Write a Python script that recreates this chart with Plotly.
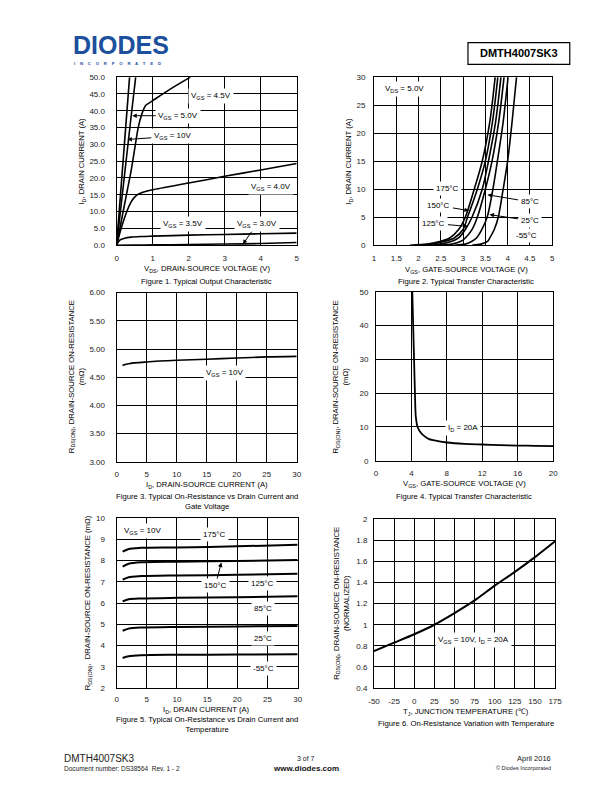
import plotly.graph_objects as go

W, H = 612, 792
FONT = "Liberation Sans"

# ---------------- data ----------------
# Figure 1: output characteristic (VDS in V, ID in A)
f1_vds_10v = [0, 0.1, 0.2, 0.3, 0.36]
f1_id_10v = [0, 14, 28, 42, 50]
f1_vds_5v = [0, 0.1, 0.2, 0.3, 0.4, 0.53]
f1_id_5v = [0, 10, 19.5, 29, 38, 50]
f1_vds_45v = [0, 0.1, 0.2, 0.3, 0.4, 0.5, 0.6, 0.7, 0.8, 0.9, 1.0, 1.5, 2.05]
f1_id_45v = [0, 5.5, 11, 16.5, 22, 28.5, 35, 39, 41.5, 42.3, 43, 46.5, 50]
f1_vds_4v = [0, 0.1, 0.2, 0.3, 0.4, 0.5, 0.6, 0.8, 1.0, 2.0, 3.0, 4.0, 5.0]
f1_id_4v = [0, 4, 7.5, 10.5, 12.8, 14.3, 15.2, 16, 16.5, 18.5, 20.5, 22.4, 24.3]
f1_vds_35v = [0, 0.05, 0.1, 0.2, 0.4, 0.7, 1, 2, 3, 4, 5]
f1_id_35v = [0, 1, 1.6, 2.0, 2.4, 2.6, 2.7, 3.0, 3.2, 3.4, 3.6]
f1_vds_3v = [0, 0.5, 1, 2, 3, 4, 5]
f1_id_3v = [0, 0.05, 0.1, 0.2, 0.35, 0.5, 0.8]

# Figure 2: transfer characteristic (VGS in V, ID in A)
f2_vgs_175 = [1.8, 2.2, 2.5, 2.7, 2.9, 3.05, 3.25, 3.43, 3.6, 3.72]
f2_vgs_150 = [2.0, 2.3, 2.6, 2.8, 3.0, 3.1, 3.32, 3.5, 3.66, 3.78]
f2_vgs_125 = [2.2, 2.5, 2.75, 2.9, 3.05, 3.2, 3.43, 3.57, 3.73, 3.85]
f2_vgs_85 = [2.5, 2.75, 2.95, 3.05, 3.2, 3.32, 3.5, 3.65, 3.8, 3.92]
f2_vgs_25 = [2.8, 3.05, 3.2, 3.3, 3.42, 3.54, 3.67, 3.77, 3.9, 4.01]
f2_vgs_m55 = [3.2, 3.4, 3.55, 3.6, 3.7, 3.79, 3.9, 4.0, 4.1, 4.2]
f2_id = [0, 0.2, 0.7, 1.3, 2.8, 5, 10, 15, 22, 30]

# Figure 3: RDS(on) vs ID at VGS = 10V
f3_id = [1, 2, 5, 10, 15, 20, 25, 30]
f3_rds = [4.71, 4.74, 4.77, 4.80, 4.82, 4.84, 4.86, 4.87]

# Figure 4: RDS(on) vs VGS at ID = 20A
f4_vgs = [4.1, 4.2, 4.3, 4.4, 4.5, 4.7, 5, 5.5, 6, 7, 8, 10, 12, 14, 16, 18, 20]
f4_rds = [50, 40, 30, 20, 13, 10, 8.5, 7.2, 6.4, 5.8, 5.4, 5.0, 4.8, 4.6, 4.5, 4.4, 4.3]

# Figure 5: RDS(on) vs ID at temperatures
f5_id = [1, 2, 4, 10, 20, 30]
f5_rds_175 = [8.42, 8.55, 8.60, 8.62, 8.67, 8.75]
f5_rds_150 = [7.72, 7.85, 7.92, 7.95, 7.98, 8.03]
f5_rds_125 = [7.10, 7.22, 7.27, 7.30, 7.33, 7.38]
f5_rds_85 = [6.08, 6.18, 6.22, 6.25, 6.28, 6.32]
f5_rds_25 = [4.70, 4.80, 4.85, 4.88, 4.90, 4.92]
f5_rds_m55 = [3.42, 3.50, 3.55, 3.57, 3.58, 3.60]

# Figure 6: normalized RDS(on) vs Tj
f6_tj = [-50, -25, 0, 25, 50, 75, 100, 125, 150, 175]
f6_rds = [0.75, 0.83, 0.91, 1.0, 1.11, 1.23, 1.37, 1.5, 1.64, 1.79]
f6_xticks = [-50, -25, 0, 25, 50, 75, 100, 125, 150, 175]
f6_xtick_text = ["-50", "-25", "0", "25", "50", "75", "100", "125", "150", "175"]

# ---------------- layout helpers ----------------
def fx(x):
    return x / W

def fy(y):
    return 1 - y / H

# plot boxes in page pixels: (left, right, top, bottom)
boxes = {
    1: (113, 297, 74, 244),
    2: (376, 558, 74, 244),
    3: (113, 297, 292, 463),
    4: (378, 559, 291, 462),
    5: (113, 298, 520, 692),
    6: (376, 561, 521, 692),
}

fig = go.Figure()

def line(n, x, y, shape="spline", width=1.6):
    xa = "x" if n == 1 else f"x{n}"
    ya = "y" if n == 1 else f"y{n}"
    fig.add_trace(go.Scatter(x=x, y=y, mode="lines", xaxis=xa, yaxis=ya,
                             line=dict(color="black", width=width, shape=shape,
                                       smoothing=0.8 if shape == "spline" else None),
                             showlegend=False, hoverinfo="skip"))

line(1, f1_vds_10v, f1_id_10v, "linear")
line(1, f1_vds_5v, f1_id_5v, "linear")
line(1, f1_vds_45v, f1_id_45v)
line(1, f1_vds_4v, f1_id_4v)
line(1, f1_vds_35v, f1_id_35v)
line(1, f1_vds_3v, f1_id_3v)

for v in (f2_vgs_175, f2_vgs_150, f2_vgs_125, f2_vgs_85, f2_vgs_25, f2_vgs_m55):
    line(2, v, f2_id)

line(3, f3_id, f3_rds)
line(4, f4_vgs, f4_rds, "spline", 1.8)
for r in (f5_rds_175, f5_rds_150, f5_rds_125, f5_rds_85, f5_rds_25, f5_rds_m55):
    line(5, f5_id, r, "spline", 2)
line(6, f6_tj, f6_rds, "spline", 2)

TICK = 8
LBL = 8
TITLE = 7.7

tickfont = dict(family=FONT, size=TICK, color="#222")

def axes(n, xr, xd, yr, yd, yfmt=None, ystand=8, xstand=5, xvals=None, xtext=None):
    l, r, t, b = boxes[n]
    common = dict(showline=True, linecolor="black", linewidth=1, mirror=True,
                  showgrid=True, gridcolor="black", gridwidth=1, zeroline=False,
                  ticks="", tickfont=tickfont, fixedrange=True)
    xk = "xaxis" if n == 1 else f"xaxis{n}"
    yk = "yaxis" if n == 1 else f"yaxis{n}"
    ya = "y" if n == 1 else f"y{n}"
    xa = "x" if n == 1 else f"x{n}"
    xd_ = dict(domain=[fx(l), fx(r)], range=xr, anchor=ya, ticklabelstandoff=xstand, **common)
    if xvals is not None:
        xd_.update(tickmode="array", tickvals=xvals, ticktext=xtext)
    else:
        xd_.update(dtick=xd, tick0=xr[0])
    fig.layout[xk] = xd_
    yd_ = dict(domain=[fy(b), fy(t)], range=yr, dtick=yd, tick0=yr[0],
               anchor=xa, ticklabelstandoff=ystand, **common)
    if yfmt:
        yd_["tickformat"] = yfmt
    fig.layout[yk] = yd_

axes(1, [0, 5], 1, [0, 50], 5, ".1f", 9)
axes(2, [1, 5], 0.5, [0, 30], 5, None, 6)
axes(3, [0, 30], 5, [3, 6], 0.5, ".2f", 9)
axes(4, [0, 20], 4, [0, 50], 10, None, 5)
axes(5, [0, 30], 5, [2, 10], 1, None, 9, xstand=3)
axes(6, [-50, 175], 25, [0.4, 2], 0.2, None, 4, xvals=f6_xticks, xtext=f6_xtick_text)

ann = []

def text(x, y, s, size=TITLE, anchor="center", bold=False, angle=0, color="black", yanchor="middle", bg=None):
    d = dict(x=fx(x), y=fy(y), xref="paper", yref="paper", text=s, showarrow=False,
             xanchor=anchor, yanchor=yanchor, textangle=angle,
             font=dict(family=FONT, size=size, color=color))
    if bold:
        d["text"] = f"<b>{s}</b>"
    if bg:
        d["bgcolor"] = bg
        d["borderpad"] = 2
    ann.append(d)

def label(x, y, s, size=LBL):
    text(x, y, s, size=size, bg="white")

def arrow(hx, hy, tx, ty, s, size=LBL):
    ann.append(dict(x=fx(hx), y=fy(hy), xref="paper", yref="paper", text=s,
                    showarrow=True, ax=tx - hx, ay=ty - hy, axref="pixel", ayref="pixel",
                    arrowhead=2, arrowsize=0.9, arrowwidth=1, arrowcolor="black",
                    bgcolor="white", borderpad=2,
                    font=dict(family=FONT, size=size, color="black")))

# ---- Figure 1 ----
label(209, 93, "V<sub>GS</sub> = 4.5V")
arrow(129, 113, 175, 113, "V<sub>GS</sub> = 5.0V")
arrow(124, 137, 169, 134, "V<sub>GS</sub> = 10V")
label(271, 185, "V<sub>GS</sub> = 4.0V")
label(181, 223, "V<sub>GS</sub> = 3.5V")
arrow(242, 243, 256, 223, "V<sub>GS</sub> = 3.0V")
text(205, 268, "V<sub>DS</sub>, DRAIN-SOURCE VOLTAGE (V)")
text(78, 159, "I<sub>D</sub>, DRAIN CURRENT (A)", angle=-90)
text(205, 281, "Figure 1. Typical Output Characteristic")

# ---- Figure 2 ----
label(407, 86, "V<sub>DS</sub> = 5.0V")
label(451, 187, "175°C")
arrow(473, 209, 443, 204, "150°C")
arrow(472, 225, 438, 222, "125°C")
arrow(492, 193, 534, 200, "85°C")
arrow(494, 213, 534, 219, "25°C")
label(532, 234, "-55°C")
text(470, 269, "V<sub>GS</sub>, GATE-SOURCE VOLTAGE (V)")
text(351, 159, "I<sub>D</sub>, DRAIN CURRENT (A)", angle=-90)
text(470, 281, "Figure 2. Typical Transfer Characteristic")

# ---- Figure 3 ----
label(223, 373, "V<sub>GS</sub> = 10V")
text(205, 487, "I<sub>D</sub>, DRAIN-SOURCE CURRENT (A)")
text(72, 377, "R<sub>DS(ON)</sub>, DRAIN-SOURCE ON-RESISTANCE<br>(mΩ)", angle=-90)
text(205, 503, "Figure 3. Typical On-Resistance vs Drain Current and<br>Gate Voltage")

# ---- Figure 4 ----
label(467, 429, "I<sub>D</sub> = 20A")
text(468, 486, "V<sub>GS</sub>, GATE-SOURCE VOLTAGE (V)")
text(342, 377, "R<sub>DS(ON)</sub>, DRAIN-SOURCE ON-RESISTANCE<br>(mΩ)", angle=-90)
text(468, 498, "Figure 4. Typical Transfer Characteristic")

# ---- Figure 5 ----
label(139, 533, "V<sub>GS</sub> = 10V")
label(213, 537, "175°C")
arrow(220, 565, 214, 588, "150°C")
label(262, 586, "125°C")
label(263, 611, "85°C")
label(263, 642, "25°C")
label(263, 672, "-55°C")
text(205, 714, "I<sub>D</sub>, DRAIN CURRENT (A)")
text(84, 606, "R<sub>DS(ON)</sub>,  DRAIN-SOURCE ON-RESISTANCE (mΩ)", angle=-90)
text(205, 729, "Figure 5. Typical On-Resistance vs Drain Current and<br>Temperature")

# ---- Figure 6 ----
label(478, 643, "V<sub>GS</sub> = 10V, I<sub>D</sub> = 20A")
text(470, 716, "T<sub>J</sub>, JUNCTION TEMPERATURE (℃)")
text(342, 606, "R<sub>DS(ON)</sub>, DRAIN-SOURCE ON-RESISTANCE<br>(NORMALIZED)", angle=-90)
text(470, 728, "Figure 6. On-Resistance Variation with Temperature")

# ---- header ----
ann.append(dict(x=fx(66), y=fy(53), xref="paper", yref="paper", xanchor="left", yanchor="bottom",
                text="<b>DIODES</b>", showarrow=False, yshift=-5,
                font=dict(family=FONT, size=25, color="#1c4f9c")))
text(67, 60, "I    N    C    O    R    P    O    R    A    T    E    D", size=4.3,
     anchor="left", color="#1c4f9c", bold=True)
text(524, 50, "DMTH4007SK3", size=11, bold=True)

# ---- footer ----
text(57, 763, "DMTH4007SK3", size=10, anchor="left", color="#222")
text(57, 773, "Document number: DS38564  Rev. 1 - 2", size=6.5, anchor="left", color="#222")
text(307, 763, "3 of 7", size=7, color="#222")
text(307, 773, "www.diodes.com", size=8, bold=True, color="#111")
text(559, 763, "April 2016", size=7.5, anchor="right", color="#222")
text(559, 773, "© Diodes Incorporated", size=5.5, anchor="right", color="#222")

fig.update_layout(
    width=W, height=H, margin=dict(l=0, r=0, t=0, b=0),
    paper_bgcolor="white", plot_bgcolor="white",
    annotations=ann,
    shapes=[dict(type="rect", xref="paper", yref="paper",
                 x0=fx(472), x1=fx(576), y0=fy(61), y1=fy(39),
                 line=dict(color="black", width=1.2))],
    font=dict(family=FONT),
)

fig.write_html("out.html", config={"displayModeBar": False},
               post_script="document.body.style.margin='0';")
